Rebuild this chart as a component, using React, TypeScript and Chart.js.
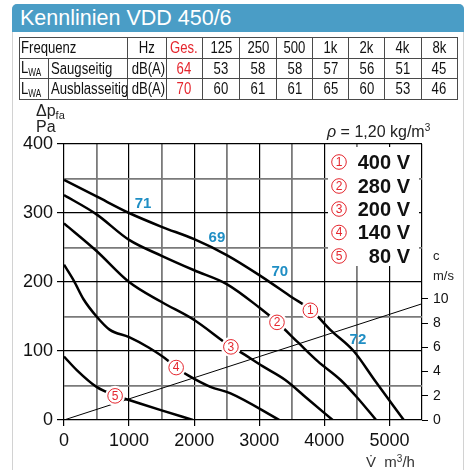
import React, { useEffect, useRef } from "react";
import { Chart, registerables } from "chart.js";

Chart.register(...registerables);

// ---- Table data ----
const freqLabels = ["Ges.", "125", "250", "500", "1k", "2k", "4k", "8k"];
const saugValues = ["64", "53", "58", "58", "57", "56", "51", "45"];
const ausblasValues = ["70", "60", "61", "61", "65", "60", "53", "46"];

// ---- Curve data (flow m³/h, pressure Pa) ----
const flow400 = [0, 500, 1000, 1500, 2000, 2500, 3000, 3500, 3800, 4100, 4450, 4770, 5220];
const pa400 = [348, 324, 300, 280, 262, 239, 210, 178, 159, 130, 100, 58, 0];
const flow280 = [0, 500, 1000, 1500, 2000, 2500, 3000, 3270, 3600, 3900, 4250, 4500, 4795];
const pa280 = [326, 298, 261, 238, 217, 197, 163, 142, 112, 85, 58, 33, 0];
const flow200 = [0, 500, 1000, 1500, 2000, 2570, 2700, 3050, 3400, 3750, 4128];
const pa200 = [285, 245, 200, 171, 145, 106, 99, 78, 58, 30, 0];
const flow140 = [0, 150, 300, 500, 700, 1000, 1300, 1600, 1720, 1900, 2250, 2550, 3310];
const pa140 = [225, 202, 175, 150, 131, 120, 105, 86, 76, 65, 48, 39, 0];
const flow80 = [0, 200, 500, 800, 1000, 1500, 1980];
const pa80 = [92, 72, 48, 35, 29, 14, 0];

// system / velocity line (m³/h -> m/s)
const systemFlow = [0, 5500];
const systemVelocity = [0, 9.6];

// ---- labels ----
const curveNumbers = ["1", "2", "3", "4", "5"];
const curveLabelFlow = [3785, 3272, 2564, 1723, 785];
const curveLabelPa = [159, 141.5, 106, 76, 35];
const voltageLabels = ["400 V", "280 V", "200 V", "140 V", "80 V"];
const soundLabels = ["71", "69", "70", "72"];
const soundFlow = [1215, 2349, 3315, 4515];
const soundPa = [313, 264, 214, 115.5];

const RED = "#e5262e";
const BLUE = "#1f8ec4";
const SANS = '"Liberation Sans", Arial, sans-serif';

function pts(fl: number[], pa: number[]) {
  return fl.map((x, i) => ({ x, y: pa[i] }));
}

function drawCircled(ctx: CanvasRenderingContext2D, x: number, y: number, d: string, bg: number) {
  ctx.save();
  if (bg > 0) {
    ctx.fillStyle = "#fff";
    ctx.beginPath();
    ctx.arc(x, y, bg, 0, Math.PI * 2);
    ctx.fill();
  }
  ctx.strokeStyle = RED;
  ctx.lineWidth = 1;
  ctx.beginPath();
  ctx.arc(x, y, 7.3, 0, Math.PI * 2);
  ctx.stroke();
  ctx.fillStyle = RED;
  ctx.font = "12px " + SANS;
  ctx.textAlign = "center";
  ctx.textBaseline = "middle";
  ctx.fillText(d, x, y + 0.5);
  ctx.restore();
}

const overlayPlugin = {
  id: "overlay",
  beforeDatasetsDraw(chart: any) {
    const ctx: CanvasRenderingContext2D = chart.ctx;
    ctx.save();
    ctx.fillStyle = "#fff";
    ctx.fillRect(328, 147, 91, 119);
    ctx.restore();
    const rowY = [162, 186, 209, 232.5, 256];
    for (let i = 0; i < 5; i++) {
      drawCircled(ctx, 339, rowY[i], curveNumbers[i], 0);
      ctx.save();
      ctx.fillStyle = "#111";
      ctx.font = "bold 20px " + SANS;
      ctx.textAlign = "right";
      ctx.textBaseline = "middle";
      ctx.fillText(voltageLabels[i], 410, rowY[i] + 1);
      ctx.restore();
    }
  },
  afterDatasetsDraw(chart: any) {
    const ctx: CanvasRenderingContext2D = chart.ctx;
    const xs = chart.scales.x;
    const ys = chart.scales.y;
    for (let i = 0; i < 5; i++) {
      drawCircled(ctx, xs.getPixelForValue(curveLabelFlow[i]), ys.getPixelForValue(curveLabelPa[i]), curveNumbers[i], 10);
    }
    ctx.save();
    ctx.fillStyle = BLUE;
    ctx.font = "bold 15px " + SANS;
    ctx.textAlign = "center";
    ctx.textBaseline = "middle";
    for (let i = 0; i < soundLabels.length; i++) {
      ctx.fillText(soundLabels[i], xs.getPixelForValue(soundFlow[i]), ys.getPixelForValue(soundPa[i]));
    }
    ctx.restore();
  },
};

function Narrow({ children, origin }: { children: React.ReactNode; origin: string }) {
  return (
    <span style={{ display: "inline-block", transform: "scaleX(0.82)", transformOrigin: origin }}>{children}</span>
  );
}

export default function App() {
  const ref = useRef<HTMLCanvasElement>(null);

  useEffect(() => {
    if (!ref.current) return;
    const curve = (fl: number[], pa: number[]) => ({
      data: pts(fl, pa),
      borderColor: "#000",
      borderWidth: 2.5,
      pointRadius: 0,
      fill: false,
      cubicInterpolationMode: "monotone" as const,
      yAxisID: "y",
    });
    const chart = new Chart(ref.current, {
      type: "line",
      data: {
        datasets: [
          {
            data: pts(systemFlow, systemVelocity),
            borderColor: "#000",
            borderWidth: 1,
            pointRadius: 0,
            fill: false,
            tension: 0,
            yAxisID: "y2",
          },
          curve(flow400, pa400),
          curve(flow280, pa280),
          curve(flow200, pa200),
          curve(flow140, pa140),
          curve(flow80, pa80),
        ],
      },
      options: {
        responsive: false,
        animation: false,
        devicePixelRatio: 1,
        layout: { padding: { top: 144, left: 0, right: 0, bottom: 0 } },
        plugins: { legend: { display: false }, tooltip: { enabled: false }, title: { display: false } },
        scales: {
          x: {
            type: "linear",
            min: 0,
            max: 5500,
            ticks: {
              stepSize: 500,
              autoSkip: false,
              maxRotation: 0,
              padding: 4,
              color: "#111",
              font: { family: SANS, size: 18 },
              callback: (v: any) => (v % 1000 === 0 && v <= 5000 ? String(v) : ""),
            },
            grid: {
              color: (c: any) => (c.tick && (c.tick.value % 1000 === 0 || c.tick.value === 5500) ? "#000" : "#7a7a7a"),
              lineWidth: (c: any) => (c.tick && (c.tick.value % 1000 === 0 || c.tick.value === 5500) ? 1.2 : 1.8),
              tickLength: 6,
              tickColor: (c: any) => (c.tick && c.tick.value % 1000 === 0 && c.tick.value <= 5000 ? "#000" : "rgba(0,0,0,0)"),
            },
            border: { display: false },
            afterFit: (s: any) => {
              s.height = 50;
            },
          },
          y: {
            type: "linear",
            position: "left",
            min: 0,
            max: 400,
            ticks: {
              stepSize: 50,
              padding: 4,
              color: "#111",
              font: { family: SANS, size: 18 },
              callback: (v: any) => (v % 100 === 0 ? String(v) : ""),
            },
            grid: {
              color: (c: any) => (c.tick && c.tick.value % 100 === 0 ? "#000" : "#7a7a7a"),
              lineWidth: (c: any) => (c.tick && c.tick.value % 100 === 0 ? 1.2 : 1.8),
              tickLength: 7,
              tickColor: (c: any) => (c.tick && c.tick.value % 100 === 0 ? "#000" : "rgba(0,0,0,0)"),
            },
            border: { display: false },
            afterFit: (s: any) => {
              s.width = 64;
            },
          },
          y2: {
            type: "linear",
            position: "right",
            min: 0,
            max: 22.8,
            ticks: {
              stepSize: 2,
              padding: 5,
              color: "#111",
              font: { family: SANS, size: 14 },
              callback: (v: any) => (v <= 10 && Number.isInteger(v) ? String(v) : ""),
            },
            grid: {
              drawOnChartArea: false,
              tickLength: 6,
              lineWidth: 1,
              tickColor: (c: any) => (c.tick && c.tick.value <= 10 ? "#000" : "rgba(0,0,0,0)"),
            },
            border: { display: false },
            afterFit: (s: any) => {
              s.width = 46;
            },
          },
        },
      },
      plugins: [overlayPlugin],
    } as any);
    return () => chart.destroy();
  }, []);

  const cell: React.CSSProperties = {
    border: "1.5px solid #4a4a4a",
    padding: 0,
    textAlign: "center",
    fontFamily: SANS,
    fontSize: 16,
    color: "#111",
    whiteSpace: "nowrap",
    overflow: "hidden",
  };
  const colW = [28.7, 79, 39.3, 35.7, 37.6, 36.7, 36.3, 36, 35.7, 36.7, 36];
  const rowH = 20.7;

  return (
    <div
      style={{
        position: "absolute",
        left: 0,
        top: 0,
        width: 468,
        height: 470,
        overflow: "hidden",
        background: "#fff",
        fontFamily: SANS,
      }}
    >
      <div
        style={{
          position: "absolute",
          left: 12,
          top: 4,
          width: 450,
          height: 480,
          border: "1.5px solid #d2d2d2",
          borderRadius: 5,
        }}
      />
      <canvas ref={ref} width={468} height={470} style={{ position: "absolute", left: 0, top: 0, display: "block" }} />
      <div
        style={{
          position: "absolute",
          left: 12,
          top: 4,
          width: 452,
          height: 28,
          background: "#4a9dc6",
          borderRadius: "5px 5px 0 0",
          color: "#fff",
          fontSize: 21.5,
          lineHeight: "29px",
          paddingLeft: 8,
          boxSizing: "border-box",
        }}
      >
        Kennlinien VDD 450/6
      </div>
      <table
        style={{
          position: "absolute",
          left: 19,
          top: 37,
          width: 438,
          borderCollapse: "collapse",
          tableLayout: "fixed",
        }}
      >
        <colgroup>
          {colW.map((w, i) => (
            <col key={i} style={{ width: w }} />
          ))}
        </colgroup>
        <tbody>
          <tr style={{ height: rowH }}>
            <td colSpan={2} style={{ ...cell, textAlign: "left", paddingLeft: 1 }}>
              <Narrow origin="left center">Frequenz</Narrow>
            </td>
            <td style={cell}>
              <Narrow origin="center">Hz</Narrow>
            </td>
            {freqLabels.map((f, i) => (
              <td key={f} style={{ ...cell, color: i === 0 ? RED : "#111" }}>
                <Narrow origin="center">{f}</Narrow>
              </td>
            ))}
          </tr>
          <tr style={{ height: rowH }}>
            <td style={{ ...cell, textAlign: "left", paddingLeft: 1 }}>
              <Narrow origin="left center">
                L<sub style={{ fontSize: 10, verticalAlign: "-3px" }}>WA</sub>
              </Narrow>
            </td>
            <td style={{ ...cell, textAlign: "left", paddingLeft: 2 }}>
              <Narrow origin="left center">Saugseitig</Narrow>
            </td>
            <td style={cell}>
              <Narrow origin="center">dB(A)</Narrow>
            </td>
            {saugValues.map((v, i) => (
              <td key={i} style={{ ...cell, color: i === 0 ? RED : "#111" }}>
                <Narrow origin="center">{v}</Narrow>
              </td>
            ))}
          </tr>
          <tr style={{ height: rowH }}>
            <td style={{ ...cell, textAlign: "left", paddingLeft: 1 }}>
              <Narrow origin="left center">
                L<sub style={{ fontSize: 10, verticalAlign: "-3px" }}>WA</sub>
              </Narrow>
            </td>
            <td style={{ ...cell, textAlign: "left", paddingLeft: 2 }}>
              <Narrow origin="left center">Ausblasseitig</Narrow>
            </td>
            <td style={cell}>
              <Narrow origin="center">dB(A)</Narrow>
            </td>
            {ausblasValues.map((v, i) => (
              <td key={i} style={{ ...cell, color: i === 0 ? RED : "#111" }}>
                <Narrow origin="center">{v}</Narrow>
              </td>
            ))}
          </tr>
        </tbody>
      </table>
      <div style={{ position: "absolute", left: 36, top: 102, fontSize: 16, color: "#222", lineHeight: "18px" }}>
        Δp<sub style={{ fontSize: 11, verticalAlign: "-3px" }}>fa</sub>
      </div>
      <div style={{ position: "absolute", left: 36, top: 118, fontSize: 16, color: "#222", lineHeight: "18px" }}>Pa</div>
      <div style={{ position: "absolute", left: 327, top: 119, fontSize: 16, color: "#222", lineHeight: "18px", whiteSpace: "nowrap" }}>
        <i>ρ</i> = 1,20 kg/m<sup style={{ fontSize: 10, verticalAlign: "6px" }}>3</sup>
      </div>
      <div style={{ position: "absolute", left: 433, top: 249, fontSize: 13, color: "#222", lineHeight: "14px" }}>c</div>
      <div style={{ position: "absolute", left: 433, top: 269, fontSize: 13, color: "#222", lineHeight: "14px" }}>m/s</div>
      <div style={{ position: "absolute", left: 366, top: 450, fontSize: 15, color: "#333", lineHeight: "17px", whiteSpace: "nowrap" }}>
        V̇&nbsp;&nbsp;m<sup style={{ fontSize: 10, verticalAlign: "5px" }}>3</sup>/h
      </div>
    </div>
  );
}
